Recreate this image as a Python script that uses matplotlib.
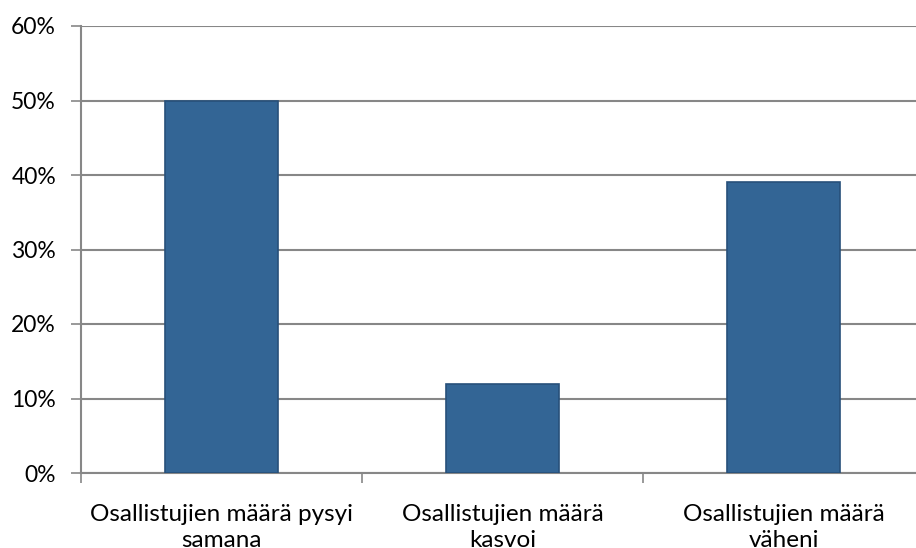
import matplotlib
matplotlib.use("Agg")
import matplotlib.pyplot as plt
import numpy as np
from matplotlib.ticker import FuncFormatter, MultipleLocator

categories = ["Osallistujien määrä pysyi\nsamana",
              "Osallistujien määrä\nkasvoi",
              "Osallistujien määrä\nväheni"]
values = [50, 12, 39]  # percent

plt.rcParams['font.family'] = ['Lato', 'DejaVu Sans']

fig = plt.figure(figsize=(9.16, 5.48), dpi=100)
ax = fig.add_axes([81 / 916, 1 - 473 / 548, 843 / 916, 447 / 548])

x = np.arange(len(categories))
ax.bar(x, values, width=0.4, color='#336595', edgecolor='#27507a', linewidth=1.2, zorder=3)

ax.set_xlim(-0.5, len(categories) - 0.5)
ax.set_ylim(0, 60)
ax.yaxis.set_major_locator(MultipleLocator(10))
ax.yaxis.set_major_formatter(FuncFormatter(lambda v, p: "%d%%" % v))
ax.grid(axis='y', color='#878787', linewidth=1.5, zorder=0)

# category boundaries get the ticks, labels sit at the centres
ax.set_xticks(np.arange(-0.5, len(categories)))
ax.set_xticklabels([])
ax.set_xticks(x, minor=True)
ax.set_xticklabels(categories, minor=True, fontsize=17.5, linespacing=1.3)
ax.tick_params(axis='x', which='minor', length=0, pad=22)
ax.tick_params(axis='x', which='major', length=7, width=1.2, color='#878787', direction='out')
ax.tick_params(axis='y', length=7, width=1.2, color='#878787', labelsize=16.5, pad=11)

for s in ['top', 'right']:
    ax.spines[s].set_visible(False)
for s in ['left', 'bottom']:
    ax.spines[s].set_color('#878787')
    ax.spines[s].set_linewidth(1.5)

fig.savefig("out.png", dpi=100)
